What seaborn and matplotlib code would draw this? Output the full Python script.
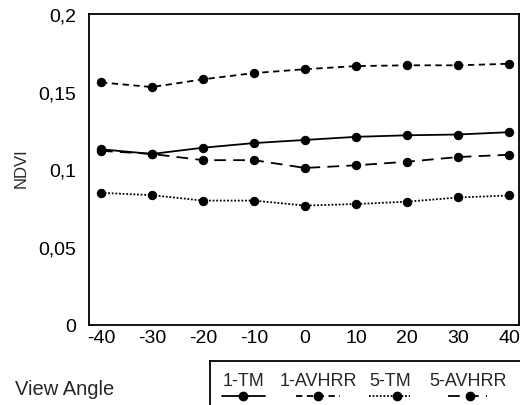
import matplotlib
matplotlib.use("Agg")
import matplotlib.pyplot as plt
import seaborn as sns
import pandas as pd
from matplotlib.lines import Line2D

# DATA
angles = [-40, -30, -20, -10, 0, 10, 20, 30, 40]
tm1 = [0.113, 0.110, 0.114, 0.117, 0.119, 0.121, 0.122, 0.1225, 0.124]
avhrr1 = [0.156, 0.153, 0.158, 0.162, 0.1645, 0.1665, 0.167, 0.167, 0.168]
tm5 = [0.085, 0.0835, 0.080, 0.080, 0.0768, 0.0778, 0.0793, 0.082, 0.0833]
avhrr5 = [0.112, 0.110, 0.106, 0.106, 0.101, 0.1027, 0.105, 0.108, 0.1095]
series = ["1-TM", "1-AVHRR", "5-TM", "5-AVHRR"]
yticks = [0, 0.05, 0.1, 0.15, 0.2]
ytick_labels = ["0", "0,05", "0,1", "0,15", "0,2"]

df = pd.DataFrame({
    "angle": angles * 4,
    "ndvi": tm1 + avhrr1 + tm5 + avhrr5,
    "series": sum([[s] * len(angles) for s in series], []),
})

sns.set_style("white")
plt.rcParams["font.family"] = ["Liberation Sans", "DejaVu Sans"]
FS = 14

dashes = {"1-TM": "", "1-AVHRR": (3.5, 2.5), "5-TM": (1, 1), "5-AVHRR": (6.5, 4)}

fig = plt.figure(figsize=(5.2, 4.06), dpi=100)
ax = fig.add_axes([89 / 520, 1 - 326 / 406, (519 - 89) / 520, (326 - 15) / 406])

sns.lineplot(
    data=df, x="angle", y="ndvi", style="series", dashes=dashes,
    markers={s: "o" for s in series}, color="black", linewidth=1.3,
    markersize=6, markeredgecolor="black", legend=False, ax=ax,
)

ax.set_xlim(-42.35, 41.96)
ax.set_ylim(0, 0.2)
ax.set_xticks(angles)
ax.set_xticklabels([str(a) for a in angles], fontsize=FS)
ax.set_yticks(yticks)
ax.set_yticklabels(ytick_labels, fontsize=FS)
ax.tick_params(axis="both", direction="in", length=6, width=1.2, colors="black")
ax.tick_params(axis="x", pad=3)
ax.tick_params(axis="y", pad=9)
ax.set_xlabel("")
ax.set_ylabel("")
for sp in ax.spines.values():
    sp.set_color("black")
    sp.set_linewidth(1.3)

fig.text(21 / 520, 1 - 168 / 406, "NDVI", fontsize=12, rotation=90, va="center", ha="center")
fig.text(15 / 520, 1 - 390 / 406, "View Angle", fontsize=14.5, va="center", ha="left")

# LEGEND BOX (text above, sample below)
lax = fig.add_axes([210 / 520, 0, 310 / 520, (406 - 362) / 406])
lax.set_xlim(210, 520)
lax.set_ylim(406, 362)
lax.set_xticks([])
lax.set_yticks([])
for name in ["right", "bottom"]:
    lax.spines[name].set_visible(False)
for name in ["left", "top"]:
    lax.spines[name].set_color("black")
    lax.spines[name].set_linewidth(1.3)

label_x = [243, 318, 390, 468]
sample_x = [(222, 265, 243), (296, 340, 318), (369, 410, 397), (448, 487, 470)]
for s, lx, (x0, x1, xm) in zip(series, label_x, sample_x):
    lax.text(lx, 382, s, fontsize=13, ha="center", va="center")
    d = dashes[s]
    ls = "-" if d == "" else (0, d)
    lax.add_line(Line2D([x0, x1], [397, 397], color="black", linewidth=1.3, linestyle=ls))
    lax.plot([xm], [397], "o", color="black", markersize=6)

fig.savefig("out.png", dpi=100)
